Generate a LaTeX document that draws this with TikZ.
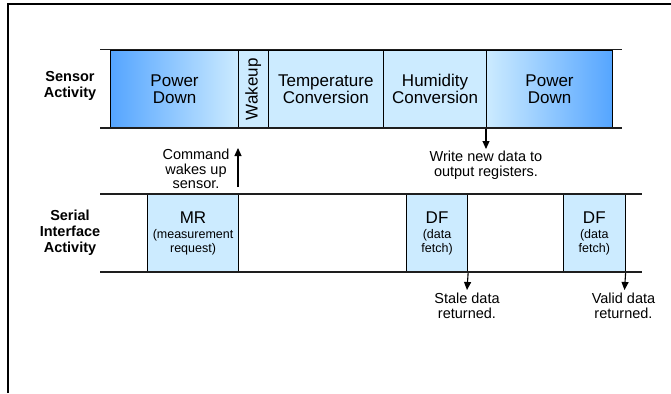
\documentclass[tikz,border=0pt]{standalone}
\usepackage{fontspec}
\setmainfont{Liberation Sans}
\usetikzlibrary{arrows.meta,positioning}
\definecolor{pdblue}{RGB}{85,165,255}
\definecolor{lightblue}{RGB}{204,235,255}
\definecolor{rulegray}{RGB}{30,30,30}
\newcommand{\smallfnt}{\fontsize{12.5}{12.5}\selectfont}
\tikzset{
  box/.style={draw=black, line width=1.1pt, anchor=north west, inner sep=0pt,
    align=center, font=\fontsize{17}{17}\selectfont},
  lightbox/.style={box, fill=lightblue},
  rowline/.style={draw=rulegray, line width=1.6pt},
  rowlabel/.style={align=center, font=\bfseries\fontsize{14.5}{16}\selectfont},
  note/.style={align=center, font=\fontsize{14.5}{14.8}\selectfont, inner sep=0pt},
  arr/.style={draw=black, line width=1.1pt, -{Triangle[length=8pt,width=7pt]}},
  frame/.style={draw=black, line width=2pt}
}
\begin{document}
\begin{tikzpicture}[x=1pt,y=-1pt]
\useasboundingbox (0,0) rectangle (671,393);
% frame
\draw[frame] (8,393) -- (8,4) -- (671,4);

% sensor row
\node[box, shading=axis, left color=pdblue, right color=lightblue, minimum width=128pt, minimum height=78.5pt] (pd1) at (110,49.5) {Power\\Down};
\node[lightbox, minimum width=29.5pt, minimum height=78.5pt] (wk) at (238,49.5) {};
\node[rotate=90, font=\fontsize{17}{17}\selectfont, inner sep=0pt] (wkt) at (wk.center) {Wakeup};
\node[lightbox, minimum width=115.5pt, minimum height=78.5pt] (tc) at (267.5,49.5) {Temperature\\Conversion};
\node[lightbox, minimum width=103pt, minimum height=78.5pt] (hc) at (383,49.5) {Humidity\\Conversion};
\node[box, shading=axis, left color=lightblue, right color=pdblue, minimum width=126pt, minimum height=78.5pt] (pd2) at (486,49.5) {Power\\Down};
\coordinate (s1) at (100,49.5);
\coordinate (s2) at (622,49.5);
\coordinate (s3) at (100,128);
\coordinate (s4) at (622,128);
\draw[rowline] (s1) -- (s2);
\draw[rowline] (s3) -- (s4);
\node[rowlabel] (sl) at (70,86) {Sensor\\Activity};

% write arrow
\coordinate (w1) at (486,149);
\draw[arr] (pd2.south west) -- (w1);
\node[note] (wn) at (486,165) {Write new data to\\output registers.};

% serial row
\node[lightbox, minimum width=91pt, minimum height=78pt] (mr) at (147,194) {MR\\[-2pt]\smallfnt (measurement\\[-3.5pt]\smallfnt request)};
\node[lightbox, minimum width=61pt, minimum height=78pt] (df1) at (406,194) {DF\\[-2pt]\smallfnt (data\\[-3.5pt]\smallfnt fetch)};
\node[lightbox, minimum width=61.5pt, minimum height=78pt] (df2) at (563,194) {DF\\[-2pt]\smallfnt (data\\[-3.5pt]\smallfnt fetch)};
\coordinate (r1) at (100,194);
\coordinate (r2) at (642,194);
\coordinate (r3) at (100,272);
\coordinate (r4) at (642,272);
\draw[rowline] (r1) -- (r2);
\draw[rowline] (r3) -- (r4);
\node[rowlabel] (il) at (70,233) {Serial\\Interface\\Activity};

% command arrow
\coordinate (c1) at (238,187);
\coordinate (c2) at (238,148);
\draw[arr] (c1) -- (c2);
\node[note] (cn) at (196,169) {Command\\wakes up\\sensor.};

% data returned arrows
\coordinate (d1) at (467,290);
\draw[arr] (df1.south east) -- (d1);
\node[note] (dn1) at (467,306) {Stale data\\returned.};
\coordinate (d2) at (624.5,290);
\draw[arr] (df2.south east) -- (d2);
\node[note] (dn2) at (623.5,306) {Valid data\\returned.};
\end{tikzpicture}
\end{document}
